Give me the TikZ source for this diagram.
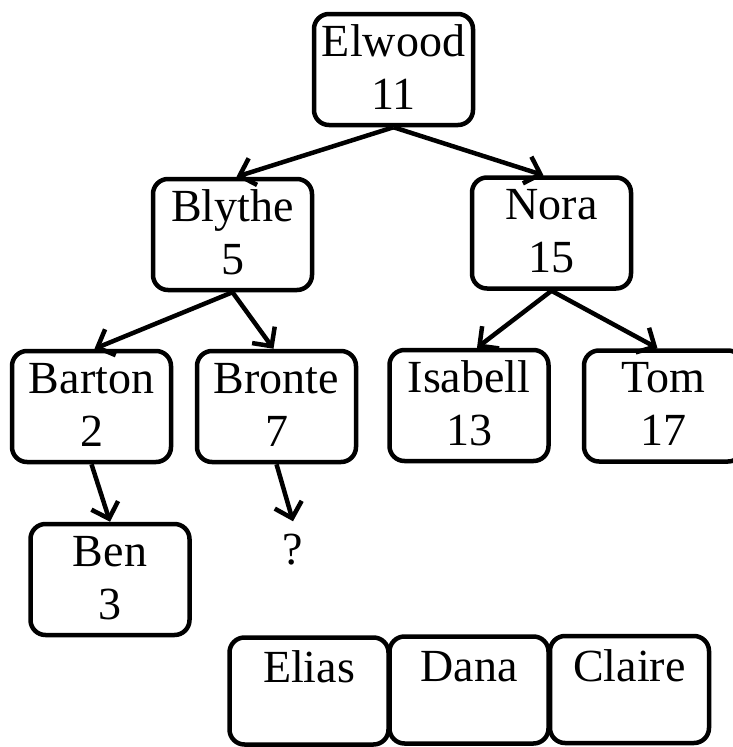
\documentclass[tikz,border=0pt]{standalone}
\usepackage{fontspec}
\setmainfont{Liberation Serif}
\usetikzlibrary{arrows.meta}

% struts that fix where the two text lines sit inside a box
\newcommand{\topstrut}{\rule{0pt}{37pt}}
\newcommand{\botstrut}{\rule[-11pt]{0pt}{11pt}}
\newcommand{\twolines}[2]{\topstrut #1\\\botstrut #2}
\newcommand{\oneline}[1]{\raisebox{-10pt}{\topstrut #1}\\\botstrut}

\tikzset{
  person/.style={draw=black, line width=4.5pt, rounded corners=15pt,
    minimum width=159pt, minimum height=111pt, inner sep=0pt,
    align=center, font=\fontsize{46}{53}\selectfont},
  spare/.style={person, minimum height=107pt},
  link/.style={draw=black, line width=4.5pt,
    -{Straight Barb[length=14pt,width=28pt,line width=4.5pt]}},
  open/.style={inner xsep=0pt, inner ysep=13pt, font=\fontsize{46}{53}\selectfont}
}

\begin{document}
\begin{tikzpicture}[x=1pt,y=-1pt]
  \useasboundingbox (0,0) rectangle (732,747);

  % tree of names with their keys
  \node[person] (elwood)  at (393.5,69.5)  {\twolines{Elwood}{11}};
  \node[person] (blythe)  at (232.5,234.5) {\twolines{Blythe}{5}};
  \node[person] (nora)    at (551.5,233)   {\twolines{Nora}{15}};
  \node[person] (barton)  at (91.5,406.5)  {\twolines{Barton}{2}};
  \node[person] (bronte)  at (276.5,406.5) {\twolines{Bronte}{7}};
  \node[person] (isabell) at (469,405.5)   {\twolines{Isabell}{13}};
  \node[person] (tom)     at (663.5,406)   {\twolines{Tom}{17}};
  \node[person] (ben)     at (110,579.5)   {\twolines{Ben}{3}};
  \node[open]   (q)       at (293,550)     {?};

  % names still waiting to be inserted
  \node[spare] (elias)  at (309,691)     {\oneline{Elias}};
  \node[spare] (dana)   at (469,690)     {\oneline{Dana}};
  \node[spare] (claire) at (629.5,689.5) {\oneline{Claire}};

  % child links
  \draw[link] (elwood.south) -- ([xshift=4pt]blythe.north);
  \draw[link] (elwood.south) -- ([xshift=-8pt]nora.north);
  \draw[link] (blythe.south) -- ([xshift=3pt]barton.north);
  \draw[link] (blythe.south) -- ([xshift=-3pt]bronte.north);
  \draw[link] (nora.south) -- ([xshift=8pt]isabell.north);
  \draw[link] (nora.south) -- ([xshift=-6pt]tom.north);
  \draw[link] (barton.south) -- (ben.north);
  \draw[link] (bronte.south) -- (q.north);
\end{tikzpicture}
\end{document}
